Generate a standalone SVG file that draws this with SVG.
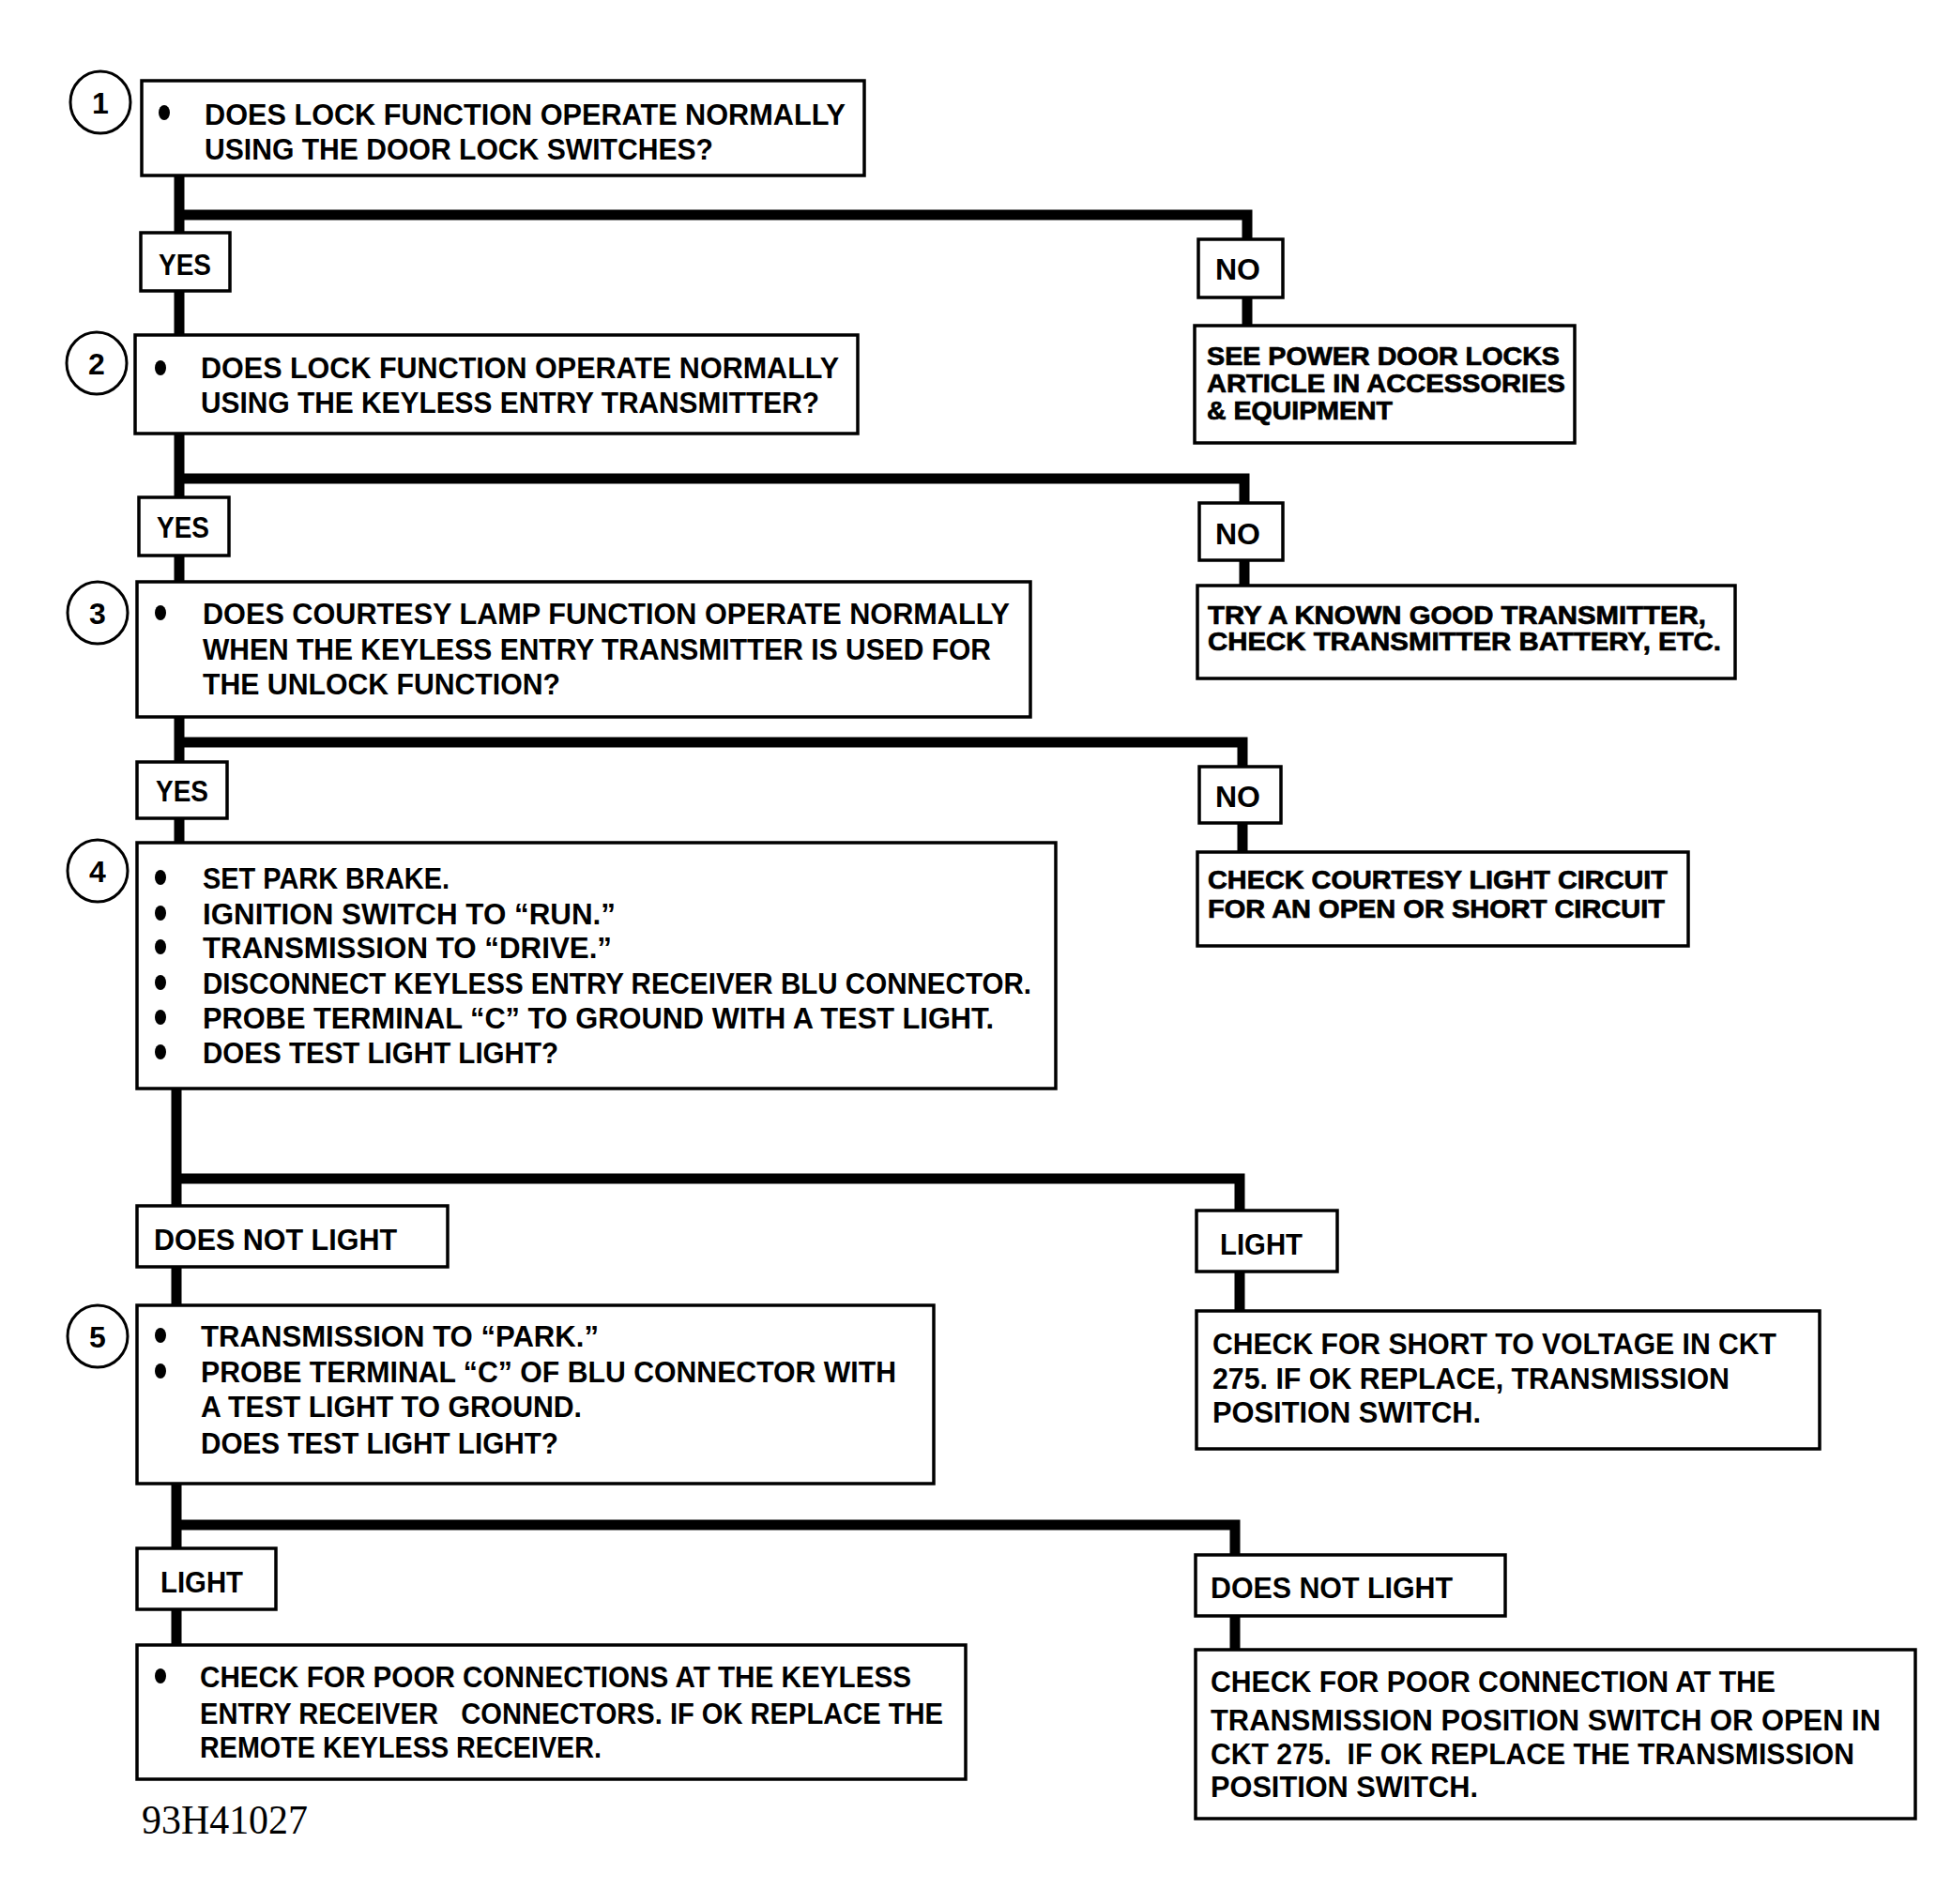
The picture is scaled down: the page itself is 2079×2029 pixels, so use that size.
<svg xmlns="http://www.w3.org/2000/svg" width="2079" height="2029" viewBox="0 0 2079 2029">
<style>
.bg{fill:#fff}
.box{fill:#fff;stroke:#000;stroke-width:3.5}
.circ{fill:#fff;stroke:#000;stroke-width:3}
.conn{fill:none;stroke:#000;stroke-width:11;stroke-linejoin:miter;stroke-linecap:butt}
.t{font-family:"Liberation Sans Narrow","Liberation Sans",Arial,sans-serif;font-weight:bold;font-size:31px;fill:#000}
.h{font-family:"Liberation Sans",Arial,sans-serif;font-weight:bold;font-size:27px;fill:#000;stroke:#000;stroke-width:0.7}
.num{font-family:"Liberation Sans",Arial,sans-serif;font-weight:bold;font-size:32px;fill:#000;text-anchor:middle}
.dot{fill:#000}
.code{font-family:"Liberation Serif","Times New Roman",serif;font-size:44px;fill:#000}
</style>
<rect class="bg" x="0" y="0" width="2079" height="2029"/>
<g id="connectors">
<path class="conn" d="M191 187 V898"/>
<path class="conn" d="M188 898 V1753"/>
<path class="conn" d="M191 229 H1329 V347"/>
<path class="conn" d="M191 510 H1326 V624"/>
<path class="conn" d="M191 791 H1324 V908"/>
<path class="conn" d="M188 1256 H1321 V1397"/>
<path class="conn" d="M188 1625 H1316 V1758"/>
</g>
<g id="node1">
<ellipse class="circ" cx="107" cy="109" rx="32" ry="33"/><text class="num" x="107" y="121">1</text>
<rect class="box" x="151" y="86" width="770" height="101"/>
<ellipse class="dot" cx="175" cy="120" rx="6" ry="8"/>
<text class="t" x="218" y="133" textLength="683" lengthAdjust="spacingAndGlyphs">DOES LOCK FUNCTION OPERATE NORMALLY</text>
<text class="t" x="218" y="170" textLength="542" lengthAdjust="spacingAndGlyphs">USING THE DOOR LOCK SWITCHES?</text>
</g>
<g id="yes1"><rect class="box" x="150" y="248" width="95" height="62"/><text class="t" x="169" y="293" textLength="56" lengthAdjust="spacingAndGlyphs">YES</text></g>
<g id="node2">
<ellipse class="circ" cx="103" cy="387" rx="32" ry="33"/><text class="num" x="103" y="399">2</text>
<rect class="box" x="144" y="357" width="770" height="105"/>
<ellipse class="dot" cx="171" cy="392" rx="6" ry="8"/>
<text class="t" x="214" y="403" textLength="680" lengthAdjust="spacingAndGlyphs">DOES LOCK FUNCTION OPERATE NORMALLY</text>
<text class="t" x="214" y="440" textLength="659" lengthAdjust="spacingAndGlyphs">USING THE KEYLESS ENTRY TRANSMITTER?</text>
</g>
<g id="yes2"><rect class="box" x="148" y="530" width="96" height="62"/><text class="t" x="167" y="573" textLength="56" lengthAdjust="spacingAndGlyphs">YES</text></g>
<g id="node3">
<ellipse class="circ" cx="104" cy="653" rx="32" ry="33"/><text class="num" x="104" y="665">3</text>
<rect class="box" x="146" y="620" width="952" height="144"/>
<ellipse class="dot" cx="171" cy="653" rx="6" ry="8"/>
<text class="t" x="216" y="665" textLength="860" lengthAdjust="spacingAndGlyphs">DOES COURTESY LAMP FUNCTION OPERATE NORMALLY</text>
<text class="t" x="216" y="703" textLength="840" lengthAdjust="spacingAndGlyphs">WHEN THE KEYLESS ENTRY TRANSMITTER IS USED FOR</text>
<text class="t" x="216" y="740" textLength="381" lengthAdjust="spacingAndGlyphs">THE UNLOCK FUNCTION?</text>
</g>
<g id="yes3"><rect class="box" x="146" y="812" width="96" height="60"/><text class="t" x="166" y="854" textLength="56" lengthAdjust="spacingAndGlyphs">YES</text></g>
<g id="node4">
<ellipse class="circ" cx="104" cy="928" rx="32" ry="33"/><text class="num" x="104" y="940">4</text>
<rect class="box" x="146" y="898" width="979" height="262"/>
<ellipse class="dot" cx="171" cy="935" rx="6" ry="8"/>
<ellipse class="dot" cx="171" cy="973" rx="6" ry="8"/>
<ellipse class="dot" cx="171" cy="1009" rx="6" ry="8"/>
<ellipse class="dot" cx="171" cy="1047" rx="6" ry="8"/>
<ellipse class="dot" cx="171" cy="1084" rx="6" ry="8"/>
<ellipse class="dot" cx="171" cy="1121" rx="6" ry="8"/>
<text class="t" x="216" y="947" textLength="263" lengthAdjust="spacingAndGlyphs">SET PARK BRAKE.</text>
<text class="t" x="216" y="985" textLength="440" lengthAdjust="spacingAndGlyphs">IGNITION SWITCH TO “RUN.”</text>
<text class="t" x="216" y="1021" textLength="436" lengthAdjust="spacingAndGlyphs">TRANSMISSION TO “DRIVE.”</text>
<text class="t" x="216" y="1059" textLength="883" lengthAdjust="spacingAndGlyphs">DISCONNECT KEYLESS ENTRY RECEIVER BLU CONNECTOR.</text>
<text class="t" x="216" y="1096" textLength="843" lengthAdjust="spacingAndGlyphs">PROBE TERMINAL “C” TO GROUND WITH A TEST LIGHT.</text>
<text class="t" x="216" y="1133" textLength="379" lengthAdjust="spacingAndGlyphs">DOES TEST LIGHT LIGHT?</text>
</g>
<g id="dnl1"><rect class="box" x="146" y="1285" width="331" height="65"/><text class="t" x="164" y="1332" textLength="259" lengthAdjust="spacingAndGlyphs">DOES NOT LIGHT</text></g>
<g id="node5">
<ellipse class="circ" cx="104" cy="1424" rx="32" ry="33"/><text class="num" x="104" y="1436">5</text>
<rect class="box" x="146" y="1391" width="849" height="190"/>
<ellipse class="dot" cx="171" cy="1423" rx="6" ry="8"/>
<ellipse class="dot" cx="171" cy="1461" rx="6" ry="8"/>
<text class="t" x="214" y="1435" textLength="424" lengthAdjust="spacingAndGlyphs">TRANSMISSION TO “PARK.”</text>
<text class="t" x="214" y="1473" textLength="741" lengthAdjust="spacingAndGlyphs">PROBE TERMINAL “C” OF BLU CONNECTOR WITH</text>
<text class="t" x="214" y="1510" textLength="406" lengthAdjust="spacingAndGlyphs">A TEST LIGHT TO GROUND.</text>
<text class="t" x="214" y="1549" textLength="381" lengthAdjust="spacingAndGlyphs">DOES TEST LIGHT LIGHT?</text>
</g>
<g id="light1"><rect class="box" x="146" y="1650" width="148" height="65"/><text class="t" x="171" y="1697" textLength="88" lengthAdjust="spacingAndGlyphs">LIGHT</text></g>
<g id="node6">
<rect class="box" x="146" y="1753" width="883" height="143"/>
<ellipse class="dot" cx="171" cy="1786" rx="6" ry="8"/>
<text class="t" x="213" y="1798" textLength="758" lengthAdjust="spacingAndGlyphs">CHECK FOR POOR CONNECTIONS AT THE KEYLESS</text>
<text class="t" x="213" y="1837" textLength="792" lengthAdjust="spacingAndGlyphs" xml:space="preserve">ENTRY RECEIVER   CONNECTORS. IF OK REPLACE THE</text>
<text class="t" x="213" y="1873" textLength="428" lengthAdjust="spacingAndGlyphs">REMOTE KEYLESS RECEIVER.</text>
</g>
<text class="code" x="151" y="1954" textLength="177" lengthAdjust="spacingAndGlyphs">93H41027</text>
<g id="no1"><rect class="box" x="1277" y="255" width="90" height="62"/><text class="t" x="1295" y="298" textLength="48" lengthAdjust="spacingAndGlyphs">NO</text></g>
<g id="res1">
<rect class="box" x="1273" y="347" width="405" height="125"/>
<text class="h" x="1286" y="389" textLength="376" lengthAdjust="spacingAndGlyphs">SEE POWER DOOR LOCKS</text>
<text class="h" x="1286" y="418" textLength="382" lengthAdjust="spacingAndGlyphs">ARTICLE IN ACCESSORIES</text>
<text class="h" x="1286" y="447" textLength="198" lengthAdjust="spacingAndGlyphs">&amp; EQUIPMENT</text>
</g>
<g id="no2"><rect class="box" x="1278" y="536" width="89" height="61"/><text class="t" x="1295" y="580" textLength="48" lengthAdjust="spacingAndGlyphs">NO</text></g>
<g id="res2">
<rect class="box" x="1276" y="624" width="573" height="99"/>
<text class="h" x="1287" y="665" textLength="531" lengthAdjust="spacingAndGlyphs">TRY A KNOWN GOOD TRANSMITTER,</text>
<text class="h" x="1287" y="693" textLength="547" lengthAdjust="spacingAndGlyphs">CHECK TRANSMITTER BATTERY, ETC.</text>
</g>
<g id="no3"><rect class="box" x="1278" y="817" width="87" height="60"/><text class="t" x="1295" y="860" textLength="48" lengthAdjust="spacingAndGlyphs">NO</text></g>
<g id="res3">
<rect class="box" x="1276" y="908" width="523" height="100"/>
<text class="h" x="1287" y="947" textLength="490" lengthAdjust="spacingAndGlyphs">CHECK COURTESY LIGHT CIRCUIT</text>
<text class="h" x="1287" y="978" textLength="487" lengthAdjust="spacingAndGlyphs">FOR AN OPEN OR SHORT CIRCUIT</text>
</g>
<g id="light2"><rect class="box" x="1275" y="1290" width="150" height="65"/><text class="t" x="1300" y="1337" textLength="88" lengthAdjust="spacingAndGlyphs">LIGHT</text></g>
<g id="res4">
<rect class="box" x="1275" y="1397" width="664" height="147"/>
<text class="t" x="1292" y="1443" textLength="601" lengthAdjust="spacingAndGlyphs">CHECK FOR SHORT TO VOLTAGE IN CKT</text>
<text class="t" x="1292" y="1480" textLength="551" lengthAdjust="spacingAndGlyphs">275. IF OK REPLACE, TRANSMISSION</text>
<text class="t" x="1292" y="1516" textLength="286" lengthAdjust="spacingAndGlyphs">POSITION SWITCH.</text>
</g>
<g id="dnl2"><rect class="box" x="1274" y="1657" width="330" height="65"/><text class="t" x="1290" y="1703" textLength="258" lengthAdjust="spacingAndGlyphs">DOES NOT LIGHT</text></g>
<g id="res5">
<rect class="box" x="1274" y="1758" width="767" height="180"/>
<text class="t" x="1290" y="1803" textLength="602" lengthAdjust="spacingAndGlyphs">CHECK FOR POOR CONNECTION AT THE</text>
<text class="t" x="1290" y="1844" textLength="714" lengthAdjust="spacingAndGlyphs">TRANSMISSION POSITION SWITCH OR OPEN IN</text>
<text class="t" x="1290" y="1880" textLength="686" lengthAdjust="spacingAndGlyphs" xml:space="preserve">CKT 275.  IF OK REPLACE THE TRANSMISSION</text>
<text class="t" x="1290" y="1915" textLength="285" lengthAdjust="spacingAndGlyphs">POSITION SWITCH.</text>
</g>
</svg>
